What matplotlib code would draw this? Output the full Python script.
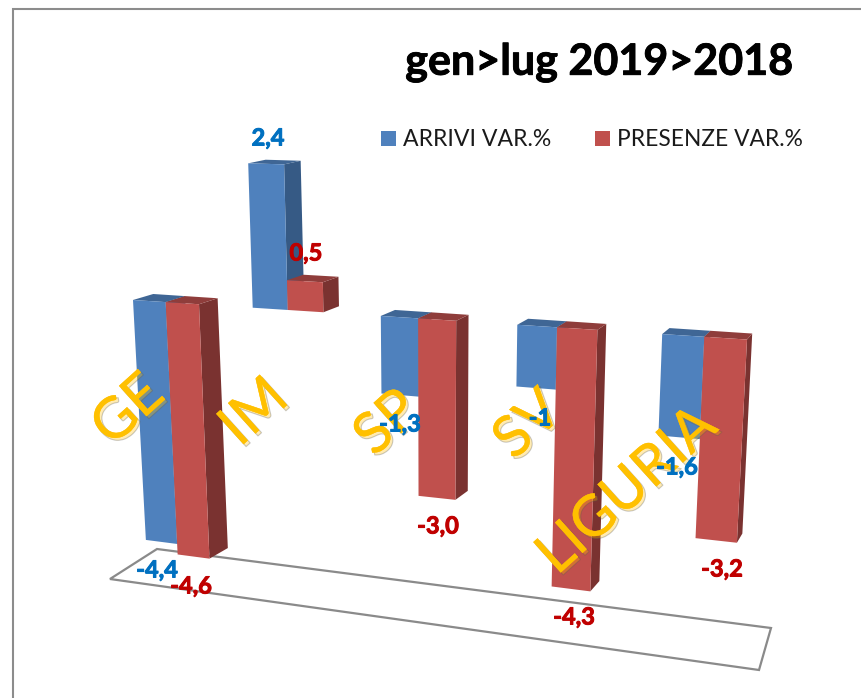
import matplotlib
matplotlib.use("Agg")
import matplotlib.pyplot as plt
from matplotlib.patches import Polygon, Rectangle
import matplotlib.patheffects as pe

# ---- data ----
categories = ["GE", "IM", "SP", "SV", "LIGURIA"]
arrivi = [-4.4, 2.4, -1.3, -1.0, -1.6]
presenze = [-4.6, 0.5, -3.0, -4.3, -3.2]
arrivi_labels = ["-4,4", "2,4", "-1,3", "-1", "-1,6"]
presenze_labels = ["-4,6", "0,5", "-3,0", "-4,3", "-3,2"]
series_names = ["ARRIVI VAR.%", "PRESENZE VAR.%"]
title = "gen>lug 2019>2018"

# ---- style / layout ----
FONT = "Lato"
BLUE = ("#4F81BD", "#3F6695", "#365A85")
RED = ("#C0504D", "#8F3D3B", "#7A3230")
arr_lab_xy = [(157, 570), (268, 138), (400, 424), (540, 418), (677, 467)]
pre_lab_xy = [(191, 586), (306, 253), (438, 526), (574, 617), (722, 569)]
cat_xy = [(129, 411), (255, 413), (388, 424), (529, 426), (628, 491)]
cat_rot = [42, 42, 42, 42, 42]


def screen(u, v):
    """Chart position (category units, value) -> picture pixels, in perspective."""
    x0 = 133 + 115.5 * u + 4.2 * u * u
    y0 = 300 + 0.0644 * (x0 - 133)
    w = 1 / (1 - 0.0103 * v)
    return 430 + (x0 - 430) * w, y0 - (57 + 0.014 * (x0 - 133)) * v * w


def back(p, v):
    """Depth offset of a point on the bar's front face."""
    return p[0] + 23.5 - 0.0245 * p[0], p[1] - (6 - 1.0 * v)


def bar(ax, u, val, cols, width=0.28, z=3):
    front_c, top_c, side_c = cols
    hi, lo = max(val, 0), min(val, 0)
    tl, tr = screen(u, hi), screen(u + width, hi)
    bl, br = screen(u, lo), screen(u + width, lo)
    ax.add_patch(Polygon([tr, back(tr, hi), back(br, lo), br], fc=side_c, ec="none", zorder=z))
    ax.add_patch(Polygon([tl, back(tl, hi), back(tr, hi), tr], fc=top_c, ec="none", zorder=z))
    ax.add_patch(Polygon([tl, tr, br, bl], fc=front_c, ec="none", zorder=z))


fig = plt.figure(figsize=(8.62, 6.98), dpi=100)
ax = fig.add_axes([0, 0, 1, 1])
ax.set_xlim(0, 862)
ax.set_ylim(698, 0)
ax.axis("off")

# chart frame
ax.add_patch(Rectangle((13.5, 9), 900, 800, fc="white", ec="#8C8C8C", lw=1.5, zorder=0))

# floor
ax.add_patch(Polygon([(157, 549), (771, 628), (759, 670), (110, 579)], closed=True,
                     fc="none", ec="#8A8A8A", lw=1.6, zorder=1))

# bars
for i in range(len(categories)):
    z = 3 + 2 * i
    bar(ax, i, arrivi[i], BLUE, z=z)
    bar(ax, i + 0.28, presenze[i], RED, z=z + 1)

# value labels
for xy, s in zip(arr_lab_xy, arrivi_labels):
    ax.text(*xy, s, color="#0070C0", fontsize=17, fontweight="bold", family=FONT,
            ha="center", va="center", zorder=30,
            path_effects=[pe.withStroke(linewidth=0.7, foreground="#0070C0")])
for xy, s in zip(pre_lab_xy, presenze_labels):
    ax.text(*xy, s, color="#C00000", fontsize=17, fontweight="bold", family=FONT,
            ha="center", va="center", zorder=30,
            path_effects=[pe.withStroke(linewidth=0.7, foreground="#C00000")])

# category labels (rotated, orange, with shadow)
for xy, s, r in zip(cat_xy, categories, cat_rot):
    ax.text(*xy, s, color="#FFC000", fontsize=41, family=FONT, rotation=r,
            rotation_mode="anchor", ha="center", va="center", zorder=25,
            path_effects=[pe.Stroke(linewidth=0.8, foreground="#555555", alpha=0.3, offset=(1.8, -1.8)),
                          pe.withStroke(linewidth=0.3, foreground="#FFC000")])

# title
ax.text(599, 62, title, fontsize=31, fontweight="bold", family=FONT, color="black",
        ha="center", va="center", zorder=30,
        path_effects=[pe.withStroke(linewidth=0.6, foreground="black")])

# legend
ax.add_patch(Rectangle((381, 131), 15, 15, fc=BLUE[0], ec="none", zorder=30))
ax.add_patch(Rectangle((595, 131), 15, 15, fc=RED[0], ec="none", zorder=30))
ax.text(403, 139, series_names[0], fontsize=16.6, family=FONT, color="#1A1A1A", ha="left", va="center", zorder=30)
ax.text(617, 139, series_names[1], fontsize=16.4, family=FONT, color="#1A1A1A", ha="left", va="center", zorder=30)

fig.savefig("out.png", dpi=100)
